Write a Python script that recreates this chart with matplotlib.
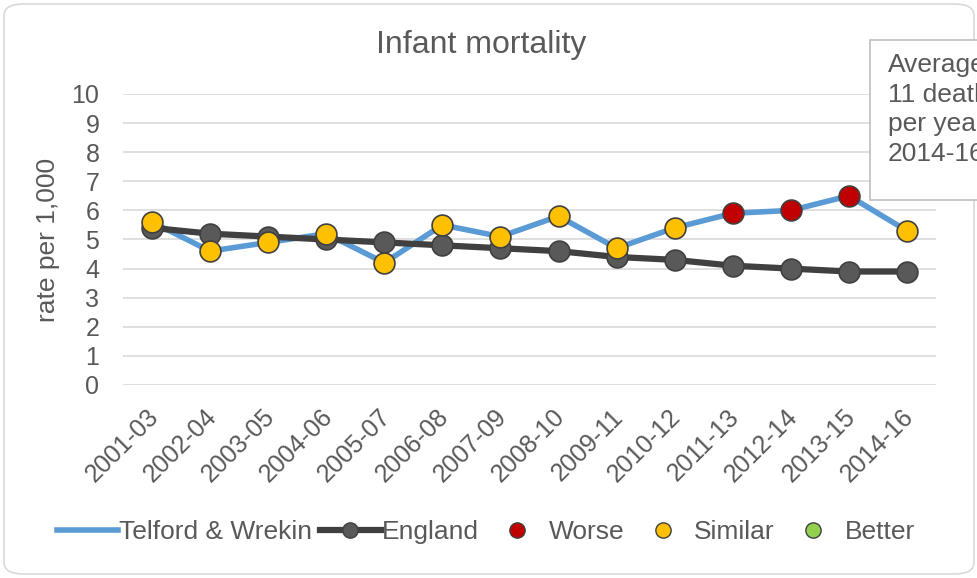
import matplotlib
matplotlib.use("Agg")
import matplotlib.pyplot as plt
from matplotlib.lines import Line2D
from matplotlib.patches import FancyBboxPatch
from matplotlib.transforms import ScaledTranslation

plt.rcParams['font.family'] = ['Liberation Sans', 'DejaVu Sans']

categories = ["2001-03", "2002-04", "2003-05", "2004-06", "2005-07", "2006-08", "2007-09",
              "2008-10", "2009-11", "2010-12", "2011-13", "2012-14", "2013-15", "2014-16"]
telford = [5.6, 4.6, 4.9, 5.2, 4.2, 5.5, 5.1, 5.8, 4.7, 5.4, 5.9, 6.0, 6.5, 5.3]
england = [5.4, 5.2, 5.1, 5.0, 4.9, 4.8, 4.7, 4.6, 4.4, 4.3, 4.1, 4.0, 3.9, 3.9]
status = ["Similar"] * 10 + ["Worse", "Worse", "Worse", "Similar"]
yticks = list(range(0, 11))

colors = {"Worse": "#C00000", "Similar": "#FFC000", "Better": "#92D050"}
blue = "#5B9BD5"
dark = "#404040"
grey_marker = "#595959"
text_col = "#595959"

fig = plt.figure(figsize=(9.78, 5.78), dpi=100)
ax = fig.add_axes([123 / 978, 1 - 385 / 578, 813 / 978, 291 / 578])

x = list(range(len(categories)))
ax.plot(x, telford, color=blue, lw=4, zorder=3, solid_capstyle='round')
ax.plot(x, england, color=dark, lw=4.5, marker='o', ms=15, mfc=grey_marker,
        mec=dark, mew=1.2, zorder=4)
for xi, v, s in zip(x, telford, status):
    ax.plot([xi], [v], marker='o', ms=15, mfc=colors[s], mec=dark, mew=1.2,
            ls='none', zorder=5)

ax.set_xlim(-0.5, len(categories) - 0.5)
ax.set_ylim(0, 10)
ax.set_yticks(yticks)
ax.set_yticklabels([str(t) for t in yticks], fontsize=18, color=text_col)
ax.set_xticks(x)
ax.set_xticklabels(categories, rotation=45, ha='right', rotation_mode='anchor',
                   fontsize=18, color=text_col)
ax.tick_params(axis='y', length=0, pad=17)
ax.tick_params(axis='x', length=0, pad=14)
shift = ScaledTranslation(-6 / 100, 0, fig.dpi_scale_trans)
for lbl in ax.get_xticklabels():
    lbl.set_transform(lbl.get_transform() + shift)
ax.grid(axis='y', color='#D9D9D9', lw=1.2)
ax.set_axisbelow(True)
for sp in ax.spines.values():
    sp.set_visible(False)
ax.set_ylabel("rate per 1,000", fontsize=19, color=text_col, labelpad=8)

fig.text(481 / 978, 1 - 45 / 578, "Infant mortality", fontsize=23, color=text_col,
         ha='center', va='center')

# border
border = FancyBboxPatch((4 / 978, 4 / 578), 970 / 978, 570 / 578,
                        boxstyle="round,pad=0,rounding_size=0.02",
                        transform=fig.transFigure, fill=False, ec='#D9D9D9', lw=1.2)
fig.patches.append(border)

# annotation box (runs past the right edge, as in the reference)
fig.patches.append(FancyBboxPatch((870 / 978, 1 - 200 / 578), 160 / 978, 160 / 578,
                                  boxstyle="square,pad=0", transform=fig.transFigure,
                                  fc='white', ec='#BFBFBF', lw=1.2, zorder=6))
fig.text(888 / 978, 1 - 53 / 578, "Average\n11 deaths\nper year\n2014-16", fontsize=19,
         color=text_col, ha='left', va='top', linespacing=1.3, zorder=7)

handles = [
    Line2D([], [], color=blue, lw=4),
    Line2D([], [], color=dark, lw=4.5, marker='o', ms=11, mfc=grey_marker, mec=dark),
    Line2D([], [], ls='none', marker='o', ms=11, mfc=colors["Worse"], mec=dark),
    Line2D([], [], ls='none', marker='o', ms=11, mfc=colors["Similar"], mec=dark),
    Line2D([], [], ls='none', marker='o', ms=11, mfc=colors["Better"], mec=dark),
]
labels = ["Telford & Wrekin", "England", "Worse", "Similar", "Better"]
leg = fig.legend(handles, labels, loc='center', bbox_to_anchor=(486 / 978, 1 - 532 / 578),
                 ncol=5, frameon=False, fontsize=19, handlelength=2.3,
                 handletextpad=0.05, columnspacing=0.3, labelcolor=text_col)

fig.savefig("out.png", dpi=100)
